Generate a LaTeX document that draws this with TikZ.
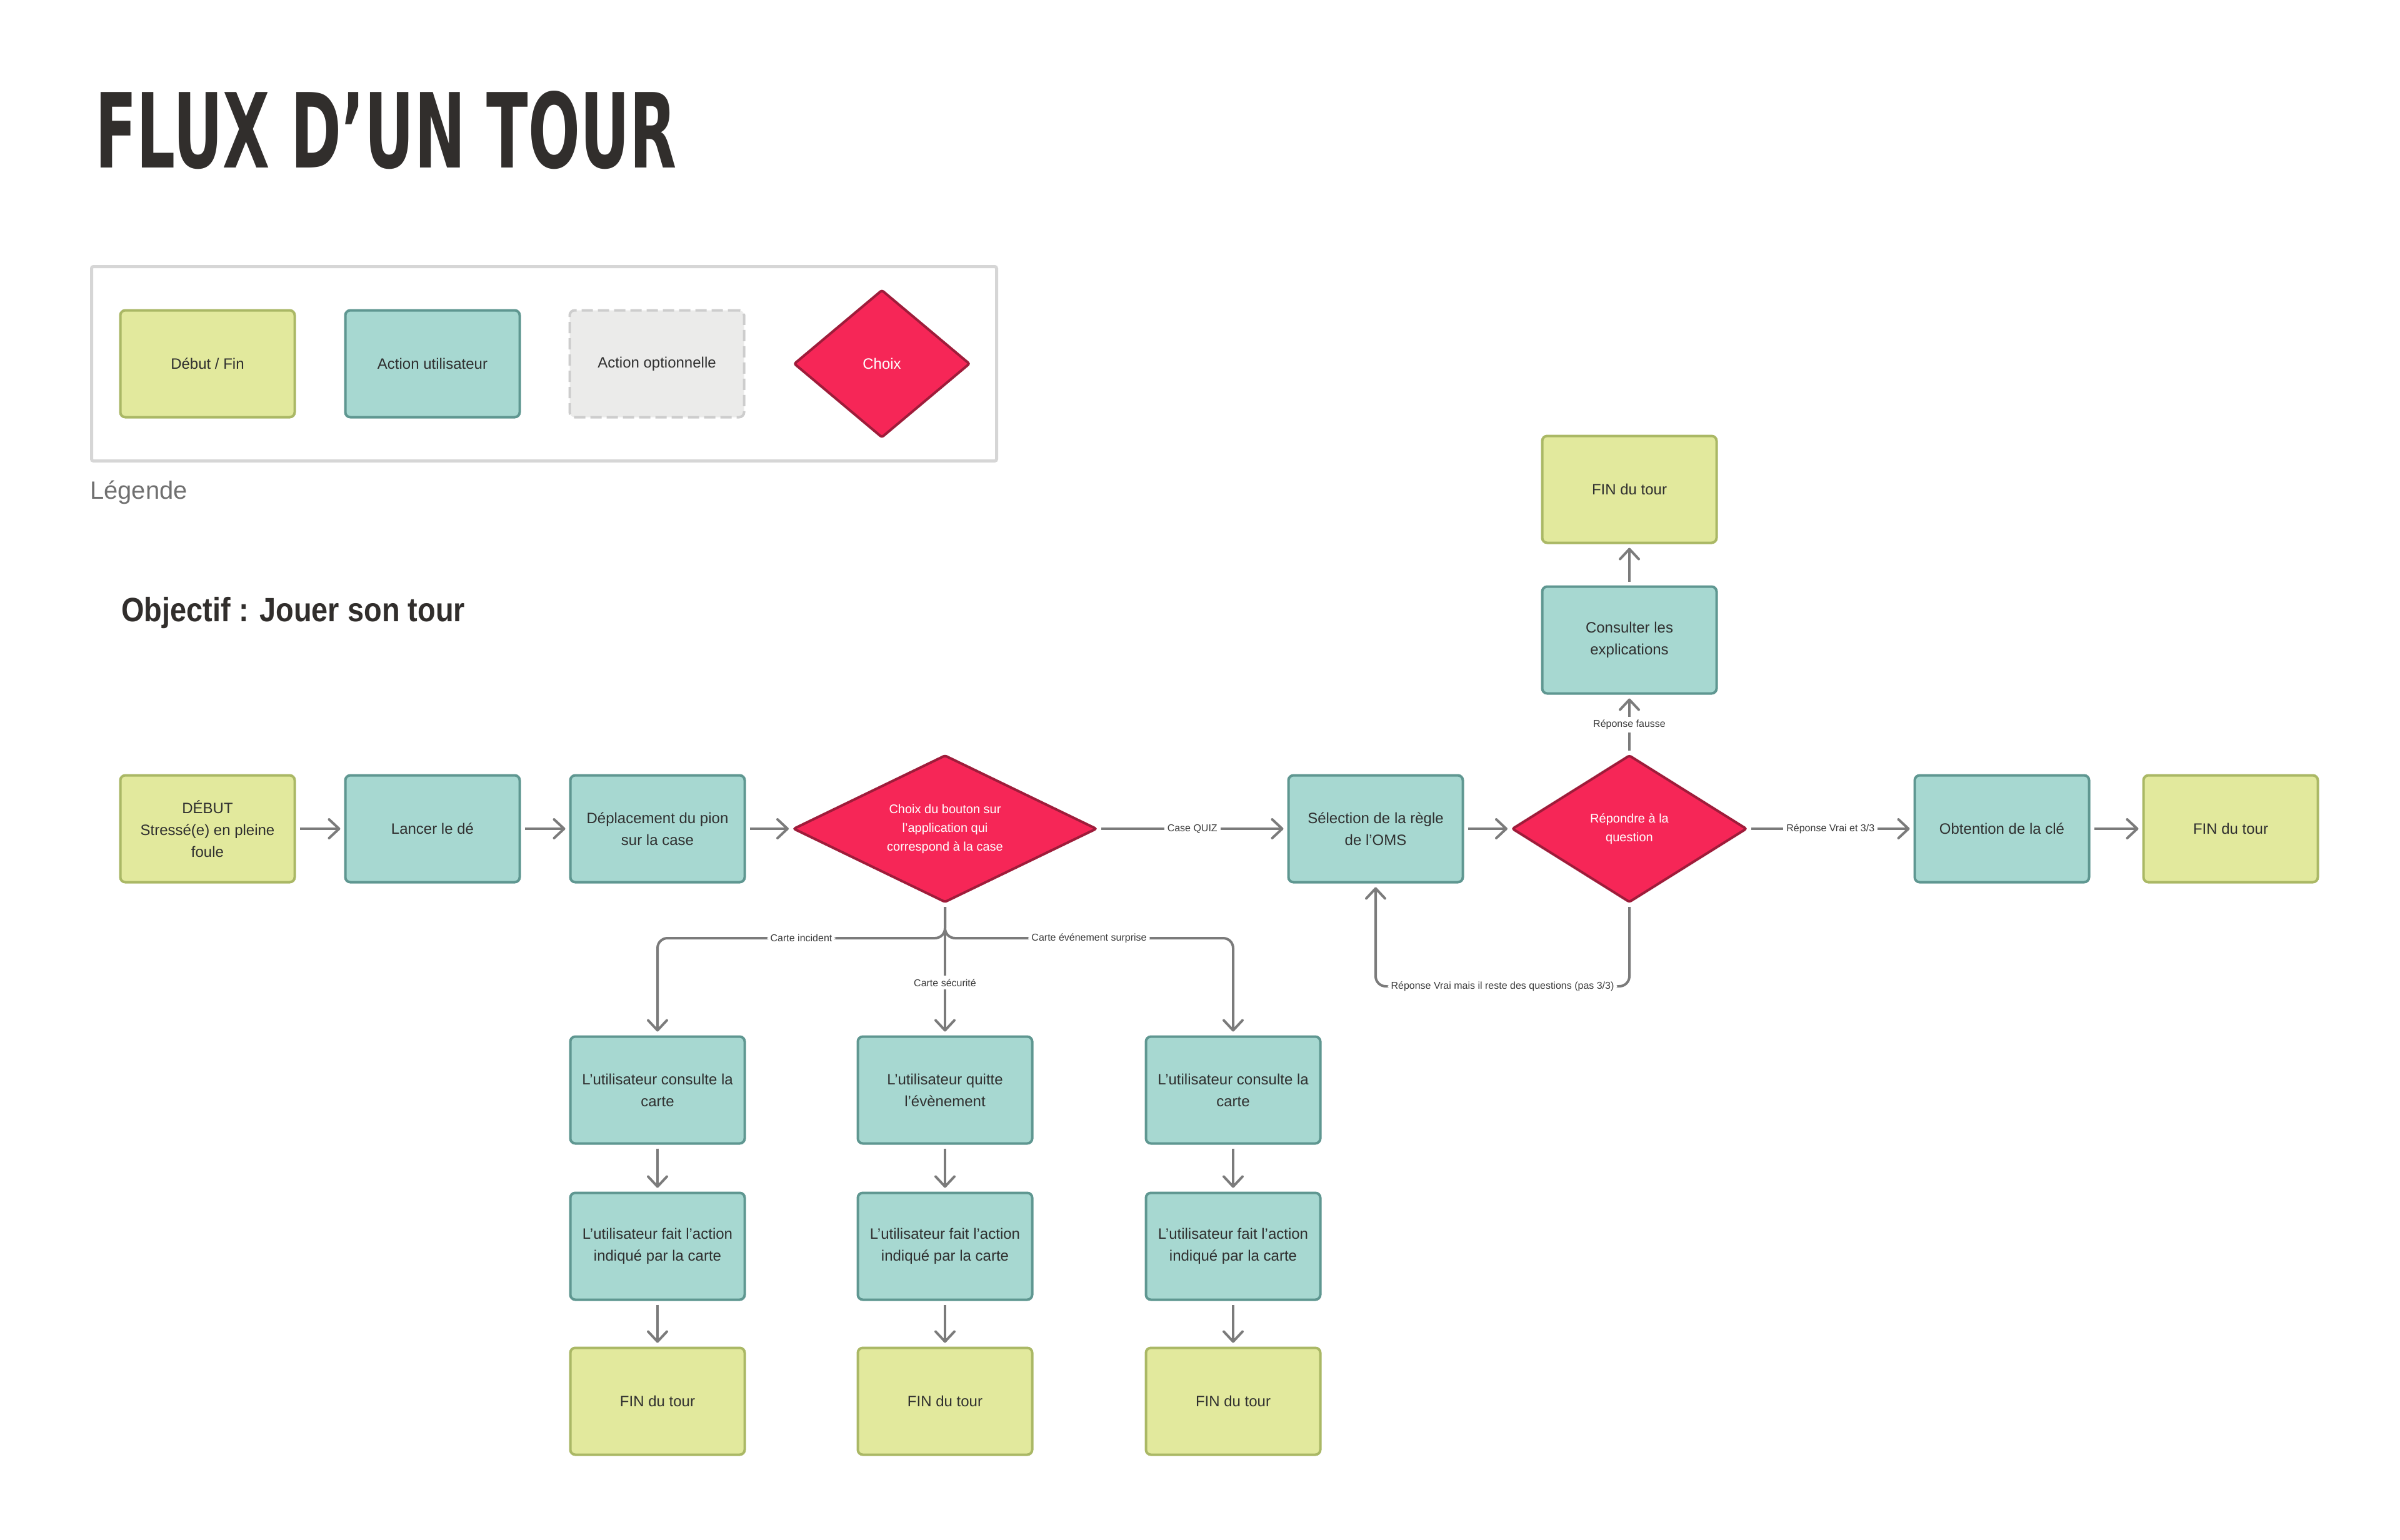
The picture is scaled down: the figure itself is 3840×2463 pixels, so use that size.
\documentclass[tikz,border=0pt]{standalone}
\usepackage{fontspec}
\setmainfont{Liberation Sans}
\newfontfamily\titlefont{DejaVu Sans}
\usetikzlibrary{shapes.geometric,arrows.meta}
\definecolor{ygfill}{HTML}{E2E99D}
\definecolor{ygline}{HTML}{AAB865}
\definecolor{tlfill}{HTML}{A7D8D1}
\definecolor{tlline}{HTML}{5F9791}
\definecolor{grfill}{HTML}{EBEBEA}
\definecolor{grline}{HTML}{CDCDCD}
\definecolor{rdfill}{HTML}{F62657}
\definecolor{rdline}{HTML}{9E1C3A}
\definecolor{arr}{HTML}{7B7B7B}
\definecolor{txt}{HTML}{2F2F2F}
\definecolor{lbltxt}{HTML}{3A3A3A}
\definecolor{frame}{HTML}{D6D6D6}
\definecolor{titlec}{HTML}{312E2C}
\definecolor{legc}{HTML}{707070}
\begin{document}
\begin{tikzpicture}[x=1pt,y=-1pt,
  base/.style={rectangle, rounded corners=8pt, line width=4pt, minimum width=279pt, minimum height=171pt, inner sep=0pt, outer sep=0pt, align=center, font=\fontsize{24}{35}\selectfont, text=txt},
  startend/.style={base, fill=ygfill, draw=ygline},
  useract/.style={base, fill=tlfill, draw=tlline},
  optact/.style={base, fill=grfill, draw=grline, dash pattern=on 18pt off 8pt},
  choice/.style={diamond, aspect=2, fill=rdfill, draw=rdline, line width=4pt, inner sep=0pt, outer sep=0pt, align=center, text=white, font=\fontsize{20}{30}\selectfont, rounded corners=3pt},
  conn/.style={draw=arr, line width=4pt, -{Straight Barb[length=16pt,width=30pt,round]}, shorten >=8pt, shorten <=8pt},
  lbl/.style={fill=white, font=\fontsize{16}{18}\selectfont, text=lbltxt, inner sep=5pt}
]
\useasboundingbox (0,0) rectangle (3840,2463);
\fill[white] (0,0) rectangle (3840,2463);

% Title
\node[anchor=south west, inner sep=0pt, text=titlec] (title) at (152,271)
  {\resizebox{930pt}{123pt}{\titlefont\bfseries FLUX D’UN TOUR}};

% Legend
\node[draw=frame, line width=5pt, rounded corners=3pt, minimum width=1448pt, minimum height=311pt, inner sep=0pt] (legendframe) at (870.5,582) {};
\node[startend] (lg1) at (332,582) {Début / Fin};
\node[useract] (lg2) at (692,582) {Action utilisateur};
\node[optact] (lg3) at (1051,582) {Action optionnelle};
\node[choice, aspect=1.2, minimum width=280pt, minimum height=235pt, font=\fontsize{24}{30}\selectfont] (lg4) at (1411,582) {Choix};
\node[anchor=base west, inner sep=0pt, text=legc, font=\fontsize{40}{48}\selectfont] (legtitle) at (144,798) {Légende};

% Objective
\node[anchor=base west, inner sep=0pt, text=titlec, font=\fontsize{54}{60}\selectfont\bfseries] (obj) at (194,994) {\scalebox{0.87}[1]{Objectif : Jouer son tour}};

% Main row
\node[startend] (debut) at (332,1326) {DÉBUT\\Stressé(e) en pleine\\foule};
\node[useract] (lancer) at (692,1326) {Lancer le dé};
\node[useract] (depl) at (1052,1326) {Déplacement du pion\\sur la case};
\node[choice, minimum width=484pt, minimum height=234pt] (d1) at (1512,1326) {Choix du bouton sur\\l’application qui\\correspond à la case};
\node[useract] (sel) at (2201,1326) {Sélection de la règle\\de l’OMS};
\node[choice, aspect=1.6, minimum width=374pt, minimum height=234pt] (d2) at (2607,1326) {Répondre à la\\question};
\node[useract] (obt) at (3203,1326) {Obtention de la clé};
\node[startend] (finr) at (3569,1326) {FIN du tour};

% Upper column
\node[useract] (cons) at (2607,1024) {Consulter les\\explications};
\node[startend] (finu) at (2607,783) {FIN du tour};

% Lower columns
\node[useract] (c1a) at (1052,1744) {L’utilisateur consulte la\\carte};
\node[useract] (c1b) at (1052,1994) {L’utilisateur fait l’action\\indiqué par la carte};
\node[startend] (c1c) at (1052,2242) {FIN du tour};
\node[useract] (c2a) at (1512,1744) {L’utilisateur quitte\\l’évènement};
\node[useract] (c2b) at (1512,1994) {L’utilisateur fait l’action\\indiqué par la carte};
\node[startend] (c2c) at (1512,2242) {FIN du tour};
\node[useract] (c3a) at (1973,1744) {L’utilisateur consulte la\\carte};
\node[useract] (c3b) at (1973,1994) {L’utilisateur fait l’action\\indiqué par la carte};
\node[startend] (c3c) at (1973,2242) {FIN du tour};

% Helper coordinates
\coordinate (jy) at (0,1501);
\coordinate (ly) at (0,1578);

% Main row connectors
\draw[conn] (debut) -- (lancer);
\draw[conn] (lancer) -- (depl);
\draw[conn] (depl) -- (d1);
\draw[conn] (d1) -- node[lbl]{Case QUIZ} (sel);
\draw[conn] (sel) -- (d2);
\draw[conn] (d2) -- node[lbl]{Réponse Vrai et 3/3} (obt);
\draw[conn] (obt) -- (finr);

% Upper
\draw[conn] (d2) -- node[lbl]{Réponse fausse} (cons);
\draw[conn] (cons) -- (finu);

% Loop back
\draw[conn, rounded corners=16pt] (d2.south) -- (d2.south |- ly) -- node[lbl]{Réponse Vrai mais il reste des questions (pas 3/3)} (sel.south |- ly) -- (sel.south);

% Branches
\draw[conn, rounded corners=16pt] (d1.south) -- (d1.south |- jy) -- node[lbl]{Carte incident} (c1a.north |- jy) -- (c1a.north);
\draw[conn, rounded corners=16pt] (d1.south) -- (d1.south |- jy) -- node[lbl]{Carte événement surprise} (c3a.north |- jy) -- (c3a.north);
\draw[conn] (d1.south) -- node[lbl, pos=0.6]{Carte sécurité} (c2a.north);

% Columns
\draw[conn] (c1a) -- (c1b);
\draw[conn] (c1b) -- (c1c);
\draw[conn] (c2a) -- (c2b);
\draw[conn] (c2b) -- (c2c);
\draw[conn] (c3a) -- (c3b);
\draw[conn] (c3b) -- (c3c);
\end{tikzpicture}
\end{document}
